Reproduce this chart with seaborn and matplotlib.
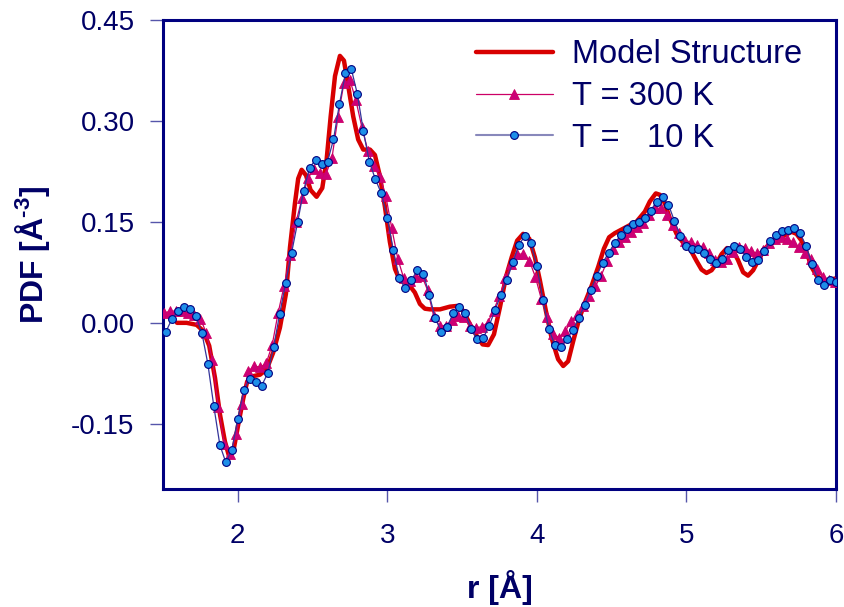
import numpy as np
import matplotlib
matplotlib.use('Agg')
import matplotlib.pyplot as plt
import seaborn as sns

sns.set_style('white')
plt.rcParams['font.family'] = ['Liberation Sans', 'DejaVu Sans']
plt.rcParams['mathtext.fontset'] = 'custom'
plt.rcParams['mathtext.rm'] = 'Liberation Sans:bold'
plt.rcParams['mathtext.bf'] = 'Liberation Sans:bold'

# ---------------- data ----------------
r_model = [1.594, 1.658, 1.725, 1.769, 1.809, 1.848, 1.881, 1.914, 1.943, 1.970,
           2.003, 2.037, 2.063, 2.104, 2.148, 2.193, 2.237, 2.282, 2.322, 2.349,
           2.382, 2.404, 2.427, 2.456, 2.487, 2.527, 2.565, 2.594, 2.621, 2.650,
           2.683, 2.710, 2.739, 2.772, 2.805, 2.839, 2.884, 2.917, 2.951, 2.984,
           3.017, 3.051, 3.084, 3.140, 3.184, 3.218, 3.251, 3.285, 3.352, 3.418,
           3.463, 3.507, 3.552, 3.597, 3.637, 3.674, 3.713, 3.753, 3.793, 3.831,
           3.868, 3.908, 3.949, 3.987, 4.020, 4.060, 4.098, 4.132, 4.142, 4.176,
           4.209, 4.243, 4.283, 4.321, 4.366, 4.410, 4.448, 4.483, 4.521, 4.622,
           4.666, 4.722, 4.755, 4.795, 4.822, 4.856, 4.889, 4.934, 4.974, 5.023,
           5.067, 5.101, 5.134, 5.168, 5.201, 5.235, 5.272, 5.312, 5.345, 5.379,
           5.412, 5.446, 5.491, 5.524, 5.569, 5.613, 5.658, 5.703, 5.736, 5.769,
           5.803, 5.836, 5.870, 5.903, 5.947, 5.981, 6.000]
pdf_model = [0.000, 0.000, -0.003, -0.012, -0.034, -0.082, -0.136, -0.176, -0.199, -0.191,
             -0.151, -0.112, -0.087, -0.079, -0.077, -0.069, -0.044, -0.007, 0.043, 0.112,
             0.177, 0.214, 0.227, 0.219, 0.197, 0.187, 0.200, 0.242, 0.306, 0.366,
             0.396, 0.389, 0.351, 0.306, 0.272, 0.257, 0.257, 0.249, 0.217, 0.172,
             0.120, 0.080, 0.063, 0.058, 0.045, 0.028, 0.021, 0.020, 0.020, 0.024,
             0.025, 0.018, -0.002, -0.019, -0.032, -0.033, -0.017, 0.023, 0.068, 0.097,
             0.122, 0.132, 0.125, 0.097, 0.063, 0.018, -0.022, -0.047, -0.054, -0.064,
             -0.057, -0.027, 0.006, 0.030, 0.055, 0.083, 0.110, 0.127, 0.133, 0.145,
             0.150, 0.165, 0.180, 0.192, 0.190, 0.177, 0.155, 0.132, 0.120, 0.110,
             0.092, 0.079, 0.074, 0.078, 0.088, 0.102, 0.111, 0.107, 0.093, 0.075,
             0.070, 0.078, 0.097, 0.110, 0.120, 0.125, 0.130, 0.135, 0.132, 0.122,
             0.105, 0.083, 0.070, 0.065, 0.063, 0.065, 0.066]

r_300K = np.round(1.51 + 0.04 * np.arange(113), 3)
pdf_300K = [0.015, 0.017, 0.018, 0.017, 0.014, 0.012, 0.006, -0.015, -0.055, -0.125,
            -0.180, -0.195, -0.165, -0.120, -0.072, -0.064, -0.066, -0.060, -0.033, 0.015,
            0.055, 0.100, 0.150, 0.185, 0.215, 0.228, 0.222, 0.221, 0.245, 0.305,
            0.356, 0.360, 0.330, 0.290, 0.255, 0.232, 0.217, 0.188, 0.140, 0.095,
            0.066, 0.062, 0.068, 0.070, 0.048, 0.010, -0.005, -0.004, 0.004, 0.010,
            0.008, -0.004, -0.007, -0.006, 0.000, 0.018, 0.040, 0.066, 0.088, 0.102,
            0.102, 0.092, 0.068, 0.035, 0.008, -0.017, -0.022, -0.012, 0.002, 0.012,
            0.025, 0.040, 0.054, 0.070, 0.092, 0.109, 0.120, 0.127, 0.135, 0.142,
            0.148, 0.160, 0.170, 0.170, 0.160, 0.145, 0.133, 0.122, 0.120, 0.115,
            0.112, 0.103, 0.093, 0.090, 0.095, 0.105, 0.113, 0.111, 0.107, 0.103,
            0.108, 0.118, 0.125, 0.127, 0.125, 0.120, 0.113, 0.103, 0.094, 0.080,
            0.068, 0.063, 0.060]

r_10K = np.round(1.52 + 0.04 * np.arange(113), 3)
pdf_10K = [-0.013, 0.006, 0.018, 0.023, 0.021, 0.010, -0.015, -0.061, -0.124, -0.181,
           -0.207, -0.189, -0.142, -0.100, -0.083, -0.088, -0.093, -0.075, -0.036, 0.013,
           0.059, 0.104, 0.149, 0.196, 0.230, 0.242, 0.235, 0.239, 0.272, 0.325,
           0.370, 0.376, 0.339, 0.284, 0.239, 0.213, 0.192, 0.156, 0.108, 0.066,
           0.051, 0.063, 0.078, 0.073, 0.042, 0.007, -0.013, -0.006, 0.014, 0.024,
           0.014, -0.009, -0.024, -0.023, -0.005, 0.019, 0.042, 0.064, 0.090, 0.116,
           0.129, 0.118, 0.084, 0.034, -0.009, -0.033, -0.036, -0.024, -0.011, 0.007,
           0.027, 0.049, 0.070, 0.089, 0.104, 0.118, 0.130, 0.139, 0.146, 0.149,
           0.155, 0.166, 0.180, 0.186, 0.175, 0.151, 0.129, 0.114, 0.110, 0.109,
           0.103, 0.094, 0.089, 0.095, 0.108, 0.114, 0.110, 0.098, 0.090, 0.093,
           0.106, 0.121, 0.131, 0.136, 0.138, 0.140, 0.133, 0.114, 0.087, 0.064,
           0.056, 0.064, 0.061]

x_ticks = [2, 3, 4, 5, 6]
y_ticks = [-0.15, 0.00, 0.15, 0.30, 0.45]
y_tick_labels = ['-0.15', '0.00', '0.15', '0.30', '0.45']

# ---------------- figure ----------------
NAVY = '#000066'
fig = plt.figure(figsize=(8.44, 6.07), dpi=100)
W, H = 844, 607
ax = fig.add_axes([163 / W, 1 - 489 / H, (836 - 163) / W, (489 - 19.5) / H])

sns.lineplot(x=r_model, y=pdf_model, ax=ax, color='#D80000', lw=3.2, sort=False,
             estimator=None, label='Model Structure', zorder=2)
sns.lineplot(x=r_300K, y=pdf_300K, ax=ax, color='#CC0066', lw=0.9, sort=False,
             estimator=None, marker='^', markersize=6.5, markerfacecolor='#CC0077',
             markeredgecolor='#CC0066', markeredgewidth=0.6, label='T = 300 K', zorder=3)
sns.lineplot(x=r_10K, y=pdf_10K, ax=ax, color='#34349A', lw=0.9, sort=False,
             estimator=None, marker='o', markersize=5.6, markerfacecolor='#1E8FE8',
             markeredgecolor='#000080', markeredgewidth=0.8, label='T =   10 K', zorder=4)

ax.set_xlim(1.5, 6.0)
ax.set_ylim(-0.2465, 0.45)
ax.set_xticks(x_ticks)
ax.set_xticklabels([str(t) for t in x_ticks])
ax.set_yticks(y_ticks)
ax.set_yticklabels(y_tick_labels)

for s in ax.spines.values():
    s.set_color('#000080')
    s.set_linewidth(2.2)

ax.tick_params(axis='both', direction='out', length=9.5, width=1.0, color='#5555AA',
               labelsize=20, labelcolor=NAVY, bottom=True, left=True)
ax.tick_params(axis='x', pad=15)
ax.tick_params(axis='y', pad=11)

ax.set_xlabel('r [Å]', fontsize=23, fontweight='bold', color=NAVY)
ax.xaxis.set_label_coords(0.5, -0.172)
ax.set_ylabel(r'PDF [Å$^{\text{-3}}$]', fontsize=23, fontweight='bold', color=NAVY)
ax.yaxis.set_label_coords(-0.165, 0.5)

leg = ax.legend(loc='upper left', bbox_to_anchor=(0.465, 0.958), frameon=False,
                fontsize=23.5, handlelength=2.35, handletextpad=0.6, labelspacing=0.33,
                borderpad=0, borderaxespad=0)
for t in leg.get_texts():
    t.set_color(NAVY)
lines = leg.get_lines()
lines[2].set_color('#8888BB')
lines[2].set_linewidth(1.5)

fig.savefig('out.png', dpi=100)
